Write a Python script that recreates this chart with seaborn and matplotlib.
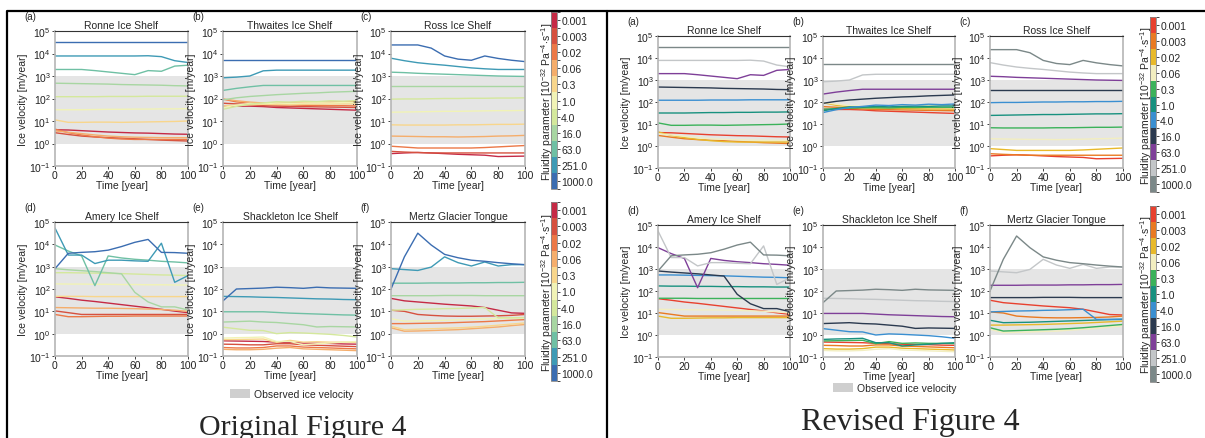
import matplotlib
matplotlib.use("Agg")
import matplotlib as mpl
import matplotlib.pyplot as plt
import numpy as np
import pandas as pd
import seaborn as sns
from matplotlib.colors import ListedColormap, BoundaryNorm
from matplotlib.lines import Line2D
from matplotlib.patches import Patch

# ---------------- data (log10 of ice velocity in m/year) ----------------
time_years = [0, 10, 20, 30, 40, 50, 60, 70, 80, 90, 100]
fluidity_labels = ["0.001", "0.003", "0.02", "0.06", "0.3", "1.0",
                   "4.0", "16.0", "63.0", "251.0", "1000.0"]
shelf_titles = ["Ronne Ice Shelf", "Thwaites Ice Shelf", "Ross Ice Shelf",
                "Amery Ice Shelf", "Shackleton Ice Shelf", "Mertz Glacier Tongue"]
panel_letters = ["(a)", "(b)", "(c)", "(d)", "(e)", "(f)"]
observed_range = [1.0, 1000.0]

ronne_log10 = [
    [0.61, 0.60, 0.57, 0.54, 0.51, 0.49, 0.47, 0.46, 0.44, 0.42, 0.41],
    [0.48, 0.40, 0.33, 0.29, 0.26, 0.24, 0.21, 0.18, 0.15, 0.13, 0.11],
    [0.64, 0.48, 0.38, 0.30, 0.24, 0.20, 0.18, 0.18, 0.18, 0.18, 0.18],
    [0.56, 0.50, 0.44, 0.38, 0.33, 0.30, 0.28, 0.27, 0.26, 0.26, 0.26],
    [1.05, 0.94, 0.94, 0.95, 0.95, 0.94, 0.95, 0.96, 0.97, 0.98, 1.00],
    [1.50, 1.50, 1.50, 1.51, 1.52, 1.52, 1.53, 1.53, 1.54, 1.54, 1.55],
    [2.08, 2.08, 2.08, 2.08, 2.09, 2.09, 2.09, 2.10, 2.10, 2.10, 2.10],
    [2.68, 2.67, 2.66, 2.65, 2.64, 2.62, 2.61, 2.60, 2.59, 2.57, 2.56],
    [3.29, 3.29, 3.29, 3.24, 3.18, 3.12, 3.06, 3.24, 3.21, 3.44, 3.48],
    [3.89, 3.89, 3.89, 3.89, 3.89, 3.89, 3.89, 3.90, 3.86, 3.68, 3.60],
    [4.50, 4.50, 4.50, 4.50, 4.50, 4.50, 4.50, 4.50, 4.50, 4.50, 4.50],
]
thwaites_log10 = [
    [1.67, 1.66, 1.66, 1.64, 1.60, 1.58, 1.56, 1.54, 1.52, 1.50, 1.48],
    [1.79, 1.76, 1.72, 1.68, 1.66, 1.65, 1.64, 1.63, 1.62, 1.61, 1.60],
    [1.97, 1.85, 1.78, 1.74, 1.72, 1.72, 1.70, 1.69, 1.68, 1.68, 1.67],
    [1.98, 1.90, 1.84, 1.80, 1.80, 1.82, 1.82, 1.84, 1.84, 1.86, 1.86],
    [1.67, 1.70, 1.72, 1.74, 1.74, 1.73, 1.75, 1.75, 1.76, 1.76, 1.76],
    [1.60, 1.70, 1.78, 1.77, 1.80, 1.78, 1.80, 1.81, 1.80, 1.82, 1.82],
    [1.52, 1.65, 1.75, 1.80, 1.86, 1.84, 1.88, 1.86, 1.90, 1.88, 1.91],
    [1.94, 2.03, 2.09, 2.13, 2.17, 2.20, 2.23, 2.25, 2.28, 2.30, 2.32],
    [2.36, 2.45, 2.52, 2.58, 2.58, 2.58, 2.58, 2.58, 2.58, 2.58, 2.58],
    [2.92, 2.95, 3.00, 3.23, 3.26, 3.26, 3.26, 3.26, 3.26, 3.26, 3.26],
    [3.71, 3.71, 3.71, 3.71, 3.71, 3.71, 3.71, 3.71, 3.71, 3.71, 3.71],
]
ross_log10 = [
    [-0.45, -0.42, -0.40, -0.42, -0.45, -0.48, -0.50, -0.52, -0.58, -0.57, -0.56],
    [-0.35, -0.38, -0.40, -0.42, -0.42, -0.42, -0.42, -0.42, -0.42, -0.42, -0.42],
    [-0.12, -0.16, -0.20, -0.20, -0.20, -0.20, -0.20, -0.18, -0.15, -0.12, -0.09],
    [0.33, 0.32, 0.31, 0.30, 0.30, 0.29, 0.30, 0.31, 0.33, 0.34, 0.36],
    [0.83, 0.82, 0.82, 0.82, 0.82, 0.83, 0.83, 0.84, 0.85, 0.85, 0.86],
    [1.39, 1.40, 1.41, 1.42, 1.43, 1.43, 1.44, 1.45, 1.46, 1.46, 1.47],
    [1.97, 1.98, 1.98, 1.99, 2.00, 2.00, 2.01, 2.01, 2.02, 2.02, 2.03],
    [2.56, 2.56, 2.56, 2.56, 2.56, 2.56, 2.56, 2.56, 2.56, 2.56, 2.56],
    [3.17, 3.15, 3.12, 3.10, 3.08, 3.06, 3.04, 3.02, 3.00, 2.99, 2.98],
    [3.79, 3.68, 3.59, 3.53, 3.48, 3.42, 3.36, 3.32, 3.29, 3.29, 3.29],
    [4.38, 4.38, 4.38, 4.24, 3.89, 3.75, 3.70, 3.89, 3.78, 3.70, 3.64],
]
amery_log10 = [
    [1.65, 1.58, 1.50, 1.44, 1.37, 1.30, 1.23, 1.16, 1.09, 1.01, 0.94],
    [1.02, 0.94, 0.86, 0.86, 0.86, 0.86, 0.86, 0.86, 0.86, 0.86, 0.86],
    [0.86, 0.76, 0.76, 0.77, 0.78, 0.78, 0.79, 0.79, 0.79, 0.79, 0.79],
    [1.17, 1.16, 1.15, 1.14, 1.14, 1.13, 1.12, 1.10, 1.08, 1.05, 1.00],
    [1.67, 1.67, 1.67, 1.66, 1.66, 1.66, 1.66, 1.66, 1.66, 1.66, 1.66],
    [2.23, 2.22, 2.22, 2.21, 2.21, 2.20, 2.20, 2.19, 2.19, 2.18, 2.18],
    [2.73, 2.73, 2.72, 2.71, 2.70, 2.69, 2.67, 2.65, 2.63, 2.62, 2.60],
    [2.91, 2.86, 2.82, 2.78, 2.73, 2.68, 1.85, 1.42, 1.20, 1.20, 1.06],
    [3.97, 3.70, 3.48, 2.15, 3.48, 3.39, 3.33, 3.29, 3.24, 3.21, 3.17],
    [4.73, 3.52, 3.52, 3.14, 3.29, 3.29, 3.26, 3.24, 4.05, 2.30, 2.60],
    [2.91, 3.60, 3.64, 3.67, 3.74, 3.90, 4.09, 4.22, 3.64, 3.63, 3.60],
]
shackleton_log10 = [
    [-0.32, -0.33, -0.34, -0.35, -0.38, -0.40, -0.42, -0.43, -0.44, -0.46, -0.47],
    [-0.47, -0.48, -0.50, -0.50, -0.45, -0.45, -0.50, -0.52, -0.54, -0.56, -0.58],
    [-0.62, -0.64, -0.64, -0.62, -0.55, -0.55, -0.60, -0.62, -0.64, -0.66, -0.68],
    [-0.70, -0.72, -0.72, -0.70, -0.65, -0.62, -0.68, -0.70, -0.72, -0.74, -0.76],
    [-0.27, -0.26, -0.25, -0.24, -0.39, -0.30, -0.38, -0.36, -0.38, -0.38, -0.39],
    [-0.20, -0.18, -0.17, -0.15, -0.35, -0.35, -0.50, -0.45, -0.42, -0.38, -0.35],
    [0.29, 0.22, 0.15, 0.14, 0.00, 0.05, 0.03, 0.00, -0.03, -0.08, -0.15],
    [0.52, 0.54, 0.56, 0.52, 0.50, 0.45, 0.40, 0.30, 0.32, 0.31, 0.30],
    [0.98, 0.98, 0.98, 0.98, 0.95, 0.92, 0.90, 0.88, 0.86, 0.84, 0.83],
    [1.67, 1.66, 1.65, 1.63, 1.62, 1.60, 1.58, 1.56, 1.55, 1.53, 1.52],
    [1.47, 2.00, 2.02, 2.04, 2.08, 2.06, 2.03, 2.08, 2.05, 2.04, 2.03],
]
mertz_log10 = [
    [1.58, 1.47, 1.42, 1.37, 1.32, 1.28, 1.24, 1.17, 1.05, 0.93, 0.91],
    [1.05, 1.00, 0.86, 0.82, 0.79, 0.78, 0.78, 0.79, 0.80, 0.82, 0.86],
    [0.45, 0.45, 0.46, 0.47, 0.48, 0.50, 0.52, 0.54, 0.57, 0.60, 0.63],
    [0.26, 0.11, 0.12, 0.14, 0.16, 0.18, 0.22, 0.26, 0.30, 0.36, 0.41],
    [0.33, 0.18, 0.20, 0.22, 0.24, 0.26, 0.29, 0.33, 0.38, 0.43, 0.48],
    [0.67, 0.56, 0.57, 0.58, 0.60, 0.62, 0.64, 0.66, 0.68, 0.70, 0.71],
    [1.05, 1.07, 1.09, 1.10, 1.12, 1.13, 1.15, 1.17, 0.71, 0.71, 0.72],
    [1.70, 1.70, 1.70, 1.70, 1.71, 1.71, 1.71, 1.70, 1.70, 1.70, 1.70],
    [2.26, 2.26, 2.26, 2.27, 2.27, 2.27, 2.28, 2.28, 2.29, 2.29, 2.30],
    [2.91, 2.87, 2.83, 2.98, 3.44, 3.18, 3.03, 3.21, 3.03, 3.09, 3.09],
    [2.00, 3.44, 4.50, 3.97, 3.55, 3.40, 3.29, 3.24, 3.18, 3.13, 3.09],
]
shelf_data = [ronne_log10, thwaites_log10, ross_log10,
              amery_log10, shackleton_log10, mertz_log10]

# ---------------- styles ----------------
original_colors = ["#c52a45", "#d6513f", "#ec7847", "#f5ad6b", "#f8d68c", "#f1f3b6",
                   "#d4e89c", "#a8d6a2", "#6fc0a4", "#3e9ab5", "#3b6db1"]
revised_colors = ["#e8412f", "#e97a22", "#e8b92a", "#f2eec0", "#3bb25a", "#18917f",
                  "#3a8fd1", "#2b3a4f", "#7e3f98", "#c3c6c8", "#7b8888"]

W, H = 1205, 439
sns.set_style("ticks")
plt.rcParams["font.family"] = ["Liberation Sans", "DejaVu Sans"]
plt.rcParams["mathtext.fontset"] = "custom"
plt.rcParams["mathtext.rm"] = "Liberation Sans"
plt.rcParams["mathtext.it"] = "Liberation Sans:italic"
plt.rcParams["mathtext.bf"] = "Liberation Sans:bold"

fig = plt.figure(figsize=(W / 100, H / 100), dpi=100)


def box(l, t, r, b):
    return [l / W, 1 - b / H, (r - l) / W, (b - t) / H]


def long_frame(values):
    rows = []
    for lab, series in zip(fluidity_labels, values):
        for t, v in zip(time_years, series):
            rows.append({"Time": t, "Velocity": 10 ** v, "Fluidity": lab})
    return pd.DataFrame(rows)


FS = 7.5


def draw_set(cols, rows, colors, cbar_boxes, legend_xy, caption, cap_xy, cap_size):
    pal = dict(zip(fluidity_labels, colors))
    k = 0
    for (t, b) in rows:
        for (l, r) in cols:
            ax = fig.add_axes(box(l, t, r, b))
            ax.axhspan(observed_range[0], observed_range[1], color="#e5e5e5", lw=0, zorder=0)
            sns.lineplot(data=long_frame(shelf_data[k]), x="Time", y="Velocity",
                         hue="Fluidity", hue_order=fluidity_labels, palette=pal,
                         estimator=None, legend=False, linewidth=1.0, ax=ax, zorder=2)
            ax.set_yscale("log")
            ax.set_ylim(0.1, 1e5)
            ax.set_xlim(0, 100)
            ax.set_xticks([0, 20, 40, 60, 80, 100])
            ax.set_yticks([1e-1, 1, 1e1, 1e2, 1e3, 1e4, 1e5])
            ax.yaxis.set_minor_locator(mpl.ticker.NullLocator())
            ax.tick_params(labelsize=FS, length=2, width=0.6, pad=1, colors="#222222")
            ax.set_xlabel("Time [year]", fontsize=FS, labelpad=0)
            ax.set_ylabel("Ice velocity [m/year]", fontsize=FS, labelpad=1)
            ax.set_title(shelf_titles[k], fontsize=FS, pad=2)
            for side in ["left", "bottom", "right"]:
                ax.spines[side].set_color("#b5b5b5")
                ax.spines[side].set_linewidth(1.2)
            ax.spines["top"].set_color("#333333")
            ax.spines["top"].set_linewidth(0.8)
            fig.text((l - 31) / W, 1 - (t - 15) / H, panel_letters[k], fontsize=7,
                     ha="left", va="center")
            k += 1
    cmap = ListedColormap(colors)
    norm = BoundaryNorm(np.arange(12), 11)
    for cb_box in cbar_boxes:
        cax = fig.add_axes(box(*cb_box))
        cb = mpl.colorbar.ColorbarBase(cax, cmap=cmap, norm=norm, orientation="vertical")
        cb.set_ticks(np.arange(11) + 0.5)
        cb.set_ticklabels(fluidity_labels)
        cax.invert_yaxis()
        cax.tick_params(labelsize=FS, length=2, width=0.6, pad=1)
        cb.outline.set_edgecolor("#888888")
        cb.outline.set_linewidth(0.6)
        cb.set_label(r"Fluidity parameter [10$^{-32}$ Pa$^{-4}$$\cdot$s$^{-1}$]", fontsize=FS, labelpad=-3)
        cax.yaxis.set_label_position("left")
    fig.legend(handles=[Patch(facecolor="#cfcfcf", edgecolor="none")],
               labels=["Observed ice velocity"], loc="center left",
               bbox_to_anchor=(legend_xy[0] / W, 1 - legend_xy[1] / H),
               frameon=False, fontsize=FS, handlelength=1.9, handleheight=0.9,
               handletextpad=0.4, borderpad=0, borderaxespad=0)
    fig.text(cap_xy[0] / W, 1 - cap_xy[1] / H, caption, family="Liberation Serif",
             fontsize=cap_size, ha="center", va="baseline")


draw_set(cols=[(55, 188), (223, 357), (391, 525)], rows=[(32, 167), (223, 357)],
         colors=original_colors,
         cbar_boxes=[(551, 13, 557, 190), (551, 203, 557, 382)],
         legend_xy=(230, 395), caption="Original Figure 4", cap_xy=(303, 435), cap_size=21.5)

draw_set(cols=[(658, 790), (823, 955), (990, 1123)], rows=[(37, 169), (226, 358)],
         colors=revised_colors,
         cbar_boxes=[(1150, 18, 1156, 193), (1150, 207, 1156, 383)],
         legend_xy=(833, 389), caption="Revised Figure 4", cap_xy=(910, 430), cap_size=23)

# panel frames
def fline(xs, ys, lw=1.6):
    fig.add_artist(Line2D([x / W for x in xs], [1 - y / H for y in ys],
                          color="black", lw=lw, transform=fig.transFigure))

fline([7, 7, 607, 607], [439, 12, 12, 439])
fline([607, 1205], [12, 12])

fig.savefig("out.png", dpi=100)
